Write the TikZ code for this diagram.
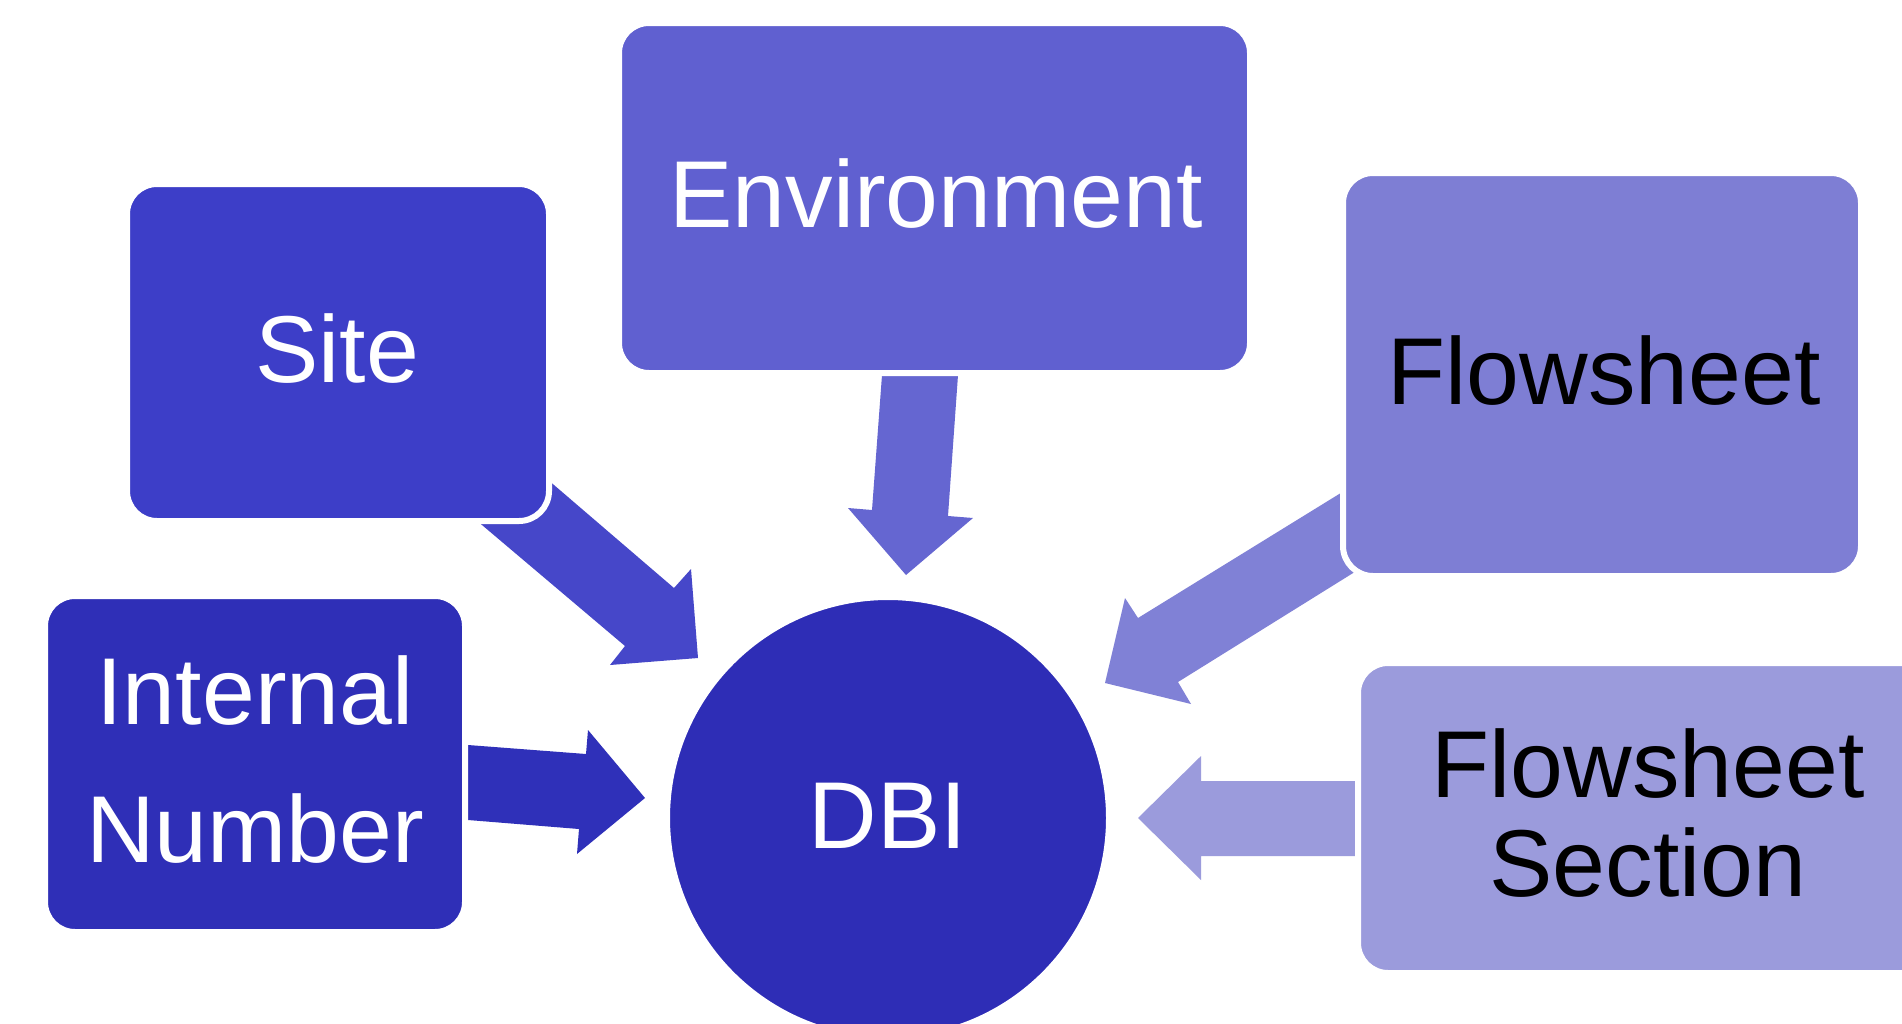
\documentclass[tikz,border=0pt]{standalone}
\usepackage{fontspec}
\setmainfont{Liberation Sans}
\definecolor{cEnv}{HTML}{6060D0}
\definecolor{cEnvA}{HTML}{6566D1}
\definecolor{cSite}{HTML}{3D3EC8}
\definecolor{cSiteA}{HTML}{4647C9}
\definecolor{cInt}{HTML}{2F2FB7}
\definecolor{cIntA}{HTML}{2F30B9}
\definecolor{cDBI}{HTML}{2E2DB6}
\definecolor{cFlow}{HTML}{7E7ED4}
\definecolor{cFlowA}{HTML}{8081D6}
\definecolor{cFS}{HTML}{9B9BDC}
\definecolor{cFSA}{HTML}{9B9BDC}
\begin{document}
\begin{tikzpicture}[x=1pt,y=-1pt,
  box/.style={rectangle, rounded corners=30pt, draw=white, line width=6pt, inner sep=0pt, outer sep=0pt},
  ball/.style={circle, draw=white, line width=6pt, inner sep=0pt, outer sep=0pt, minimum size=442pt},
  lbl/.style={inner sep=0pt, outer sep=0pt, font=\fontsize{95}{110}\selectfont, align=center},
  wlbl/.style={lbl, text=white},
  blbl/.style={lbl, text=black}]
\useasboundingbox (0,0) rectangle (1902,1023);
\clip (0,0) rectangle (1902,1023);
\fill[white] (0,0) rectangle (1902,1023);

% block arrows (drawn beneath the boxes)
\fill[cSiteA] (540,473) -- (674,588) -- (691,569) -- (698,658) -- (610,665) -- (625,646) -- (469,514) -- cycle;
\fill[cEnvA] (882,375) -- (958,375) -- (948,516) -- (973,518) -- (906,575) -- (848,508) -- (872,510) -- cycle;
\fill[cFlowA] (1357,483) -- (1138,618) -- (1125,598) -- (1105,683) -- (1191,704) -- (1178,682) -- (1374,560) -- cycle;
\fill[cIntA] (468,745) -- (586,754) -- (588,730) -- (645,798) -- (577,854) -- (579,829) -- (468,820) -- cycle;
\fill[cFSA] (1355,781) -- (1201,781) -- (1201,756) -- (1138,818) -- (1201,880) -- (1201,856) -- (1355,856) -- cycle;

% boxes
\node[box, fill=cSite, minimum width=422pt, minimum height=337pt] (site) at (338,352.5) {};
\node[box, fill=cEnv, minimum width=631pt, minimum height=350pt] (env) at (934.5,198) {};
\node[box, fill=cFlow, minimum width=518pt, minimum height=403pt] (flow) at (1602,374.5) {};
\node[box, fill=cInt, minimum width=420pt, minimum height=336pt] (intnum) at (255,764) {};
\node[box, fill=cFS, minimum width=580pt, minimum height=310pt] (fsec) at (1648,818) {};
\node[ball, fill=cDBI] (dbi) at (888,818) {};

% labels
\node[wlbl, anchor=base] (tenv) at (936,227) {Environment};
\node[wlbl, anchor=base] (tsite) at (337,382) {Site};
\node[blbl, anchor=base] (tflow) at (1604,404) {Flowsheet};
\node[wlbl, anchor=base] (tdbi) at (888,848) {DBI};
\node[wlbl, font=\fontsize{95}{138}\selectfont] (tint) at (255,760) {Internal\\Number};
\node[blbl, font=\fontsize{95}{99}\selectfont] (tfs) at (1648,813) {Flowsheet\\Section};
\end{tikzpicture}
\end{document}
